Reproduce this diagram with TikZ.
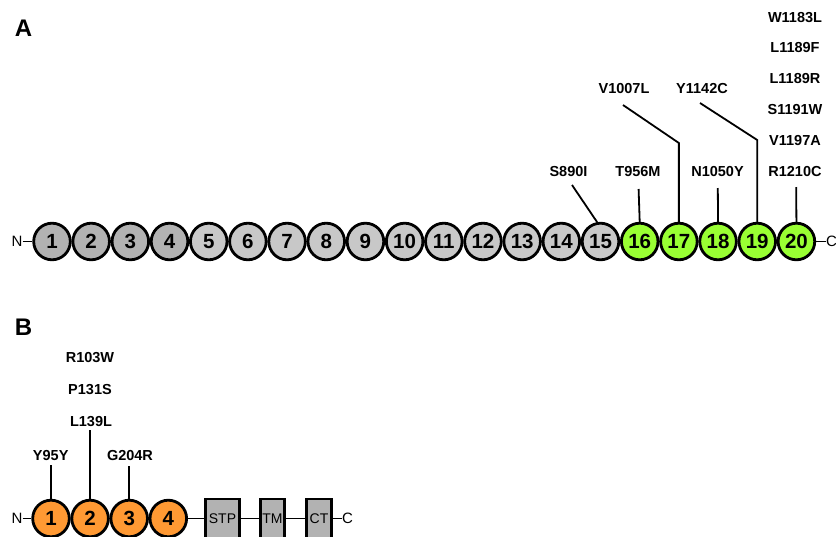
\documentclass[tikz,border=0pt]{standalone}
\usepackage{fontspec}
\setmainfont{Liberation Sans}
\definecolor{domdark}{HTML}{B2B2B2}
\definecolor{domlight}{HTML}{C8C8C8}
\definecolor{domgreen}{HTML}{99FF33}
\definecolor{domorange}{HTML}{FF9933}
\definecolor{boxgrey}{HTML}{B2B2B2}
\tikzset{
  dom/.style={circle, draw=black, line width=2.8pt, minimum size=36.6pt, inner sep=0pt,
    font=\fontsize{20.5}{20.5}\selectfont\bfseries},
  segbox/.style={rectangle, draw=black, line width=2.8pt, fill=boxgrey, inner sep=0pt,
    minimum height=39.2pt, font=\fontsize{14}{14}\selectfont},
  mut/.style={inner sep=0pt, font=\fontsize{14.5}{14.5}\selectfont\bfseries},
  term/.style={inner sep=0pt, font=\fontsize{15}{15}\selectfont},
  panel/.style={inner sep=0pt, font=\fontsize{24}{24}\selectfont\bfseries},
  link/.style={line width=1.8pt},
  tail/.style={line width=1.1pt}
}
\begin{document}
\begin{tikzpicture}[x=1pt, y=-1pt]
\useasboundingbox (0,0) rectangle (836,536);

% ---------- panel A ----------
\node[panel] (labA) at (23.5,28) {A};
\foreach \i in {1,...,4}
  \node[dom, fill=domdark] (a\i) at ({52+(\i-1)*39.18},241.5) {\i};
\foreach \i in {5,...,15}
  \node[dom, fill=domlight] (a\i) at ({52+(\i-1)*39.18},241.5) {\i};
\foreach \i in {16,...,20}
  \node[dom, fill=domgreen] (a\i) at ({52+(\i-1)*39.18},241.5) {\i};
\node[term] (nA) at (17,241.5) {N};
\node[term] (cA) at (831.5,241.5) {C};
\draw[tail] (nA) -- (a1);
\draw[tail] (a20) -- (cA);

% mutation labels
\node[mut] (mS890I)  at (568.5,171.5) {S890I};
\node[mut] (mT956M)  at (638,171.5) {T956M};
\node[mut] (mN1050Y) at (717.5,171.5) {N1050Y};
\node[mut] (mR1210C) at (795,171.5) {R1210C};
\node[mut] (mV1197A) at (795,140.5) {V1197A};
\node[mut] (mS1191W) at (795,109.5) {S1191W};
\node[mut] (mL1189R) at (795,78.5) {L1189R};
\node[mut] (mL1189F) at (795,48) {L1189F};
\node[mut] (mW1183L) at (795,17.5) {W1183L};
\node[mut] (mV1007L) at (624,88.5) {V1007L};
\node[mut] (mY1142C) at (702,88.5) {Y1142C};

% stalks
\coordinate (sS890I) at (572,185);
\coordinate (sT956M) at (638.6,189);
\coordinate (sN1050Y) at (717.8,188);
\coordinate (sR1210C) at (796.2,187);
\coordinate (sV1007L) at (623,105);
\coordinate (kV1007L) at (a17 |- 0,143);
\coordinate (sY1142C) at (700,103);
\coordinate (kY1142C) at (a19 |- 0,140);
\draw[link] (sS890I) -- (a15.100);
\draw[link] (sT956M) -- (a16.north);
\draw[link] (sN1050Y) -- (a18.north);
\draw[link] (sR1210C) -- (a20.north);
\draw[link] (sV1007L) -- (kV1007L) -- (a17.north);
\draw[link] (sY1142C) -- (kY1142C) -- (a19.north);

% ---------- panel B ----------
\node[panel] (labB) at (23.5,327.5) {B};
\foreach \i in {1,...,4}
  \node[dom, fill=domorange] (b\i) at ({51+(\i-1)*39.1},518.5) {\i};
\node[segbox, minimum width=34pt] (stp) at (222.5,518.5) {STP};
\node[segbox, minimum width=24.2pt] (tm) at (272.5,518.5) {TM};
\node[segbox, minimum width=25.2pt] (ct) at (319,518.5) {CT};
\node[term] (nB) at (17,518.5) {N};
\node[term] (cB) at (347.5,518.5) {C};
\draw[tail] (nB) -- (b1);
\draw[link] (b4) -- (stp);
\draw[link] (stp) -- (tm);
\draw[link] (tm) -- (ct);
\draw[tail] (ct) -- (cB);

\node[mut] (mR103W) at (90,358) {R103W};
\node[mut] (mP131S) at (90,390) {P131S};
\node[mut] (mL139L) at (91,422) {L139L};
\node[mut] (mY95Y)  at (50.7,456) {Y95Y};
\node[mut] (mG204R) at (130,456) {G204R};

\coordinate (sY95Y) at (b1 |- 0,465);
\coordinate (sL139L) at (b2 |- 0,430);
\coordinate (sG204R) at (b3 |- 0,466);
\draw[link] (sY95Y) -- (b1.north);
\draw[link] (sL139L) -- (b2.north);
\draw[link] (sG204R) -- (b3.north);
\end{tikzpicture}
\end{document}
